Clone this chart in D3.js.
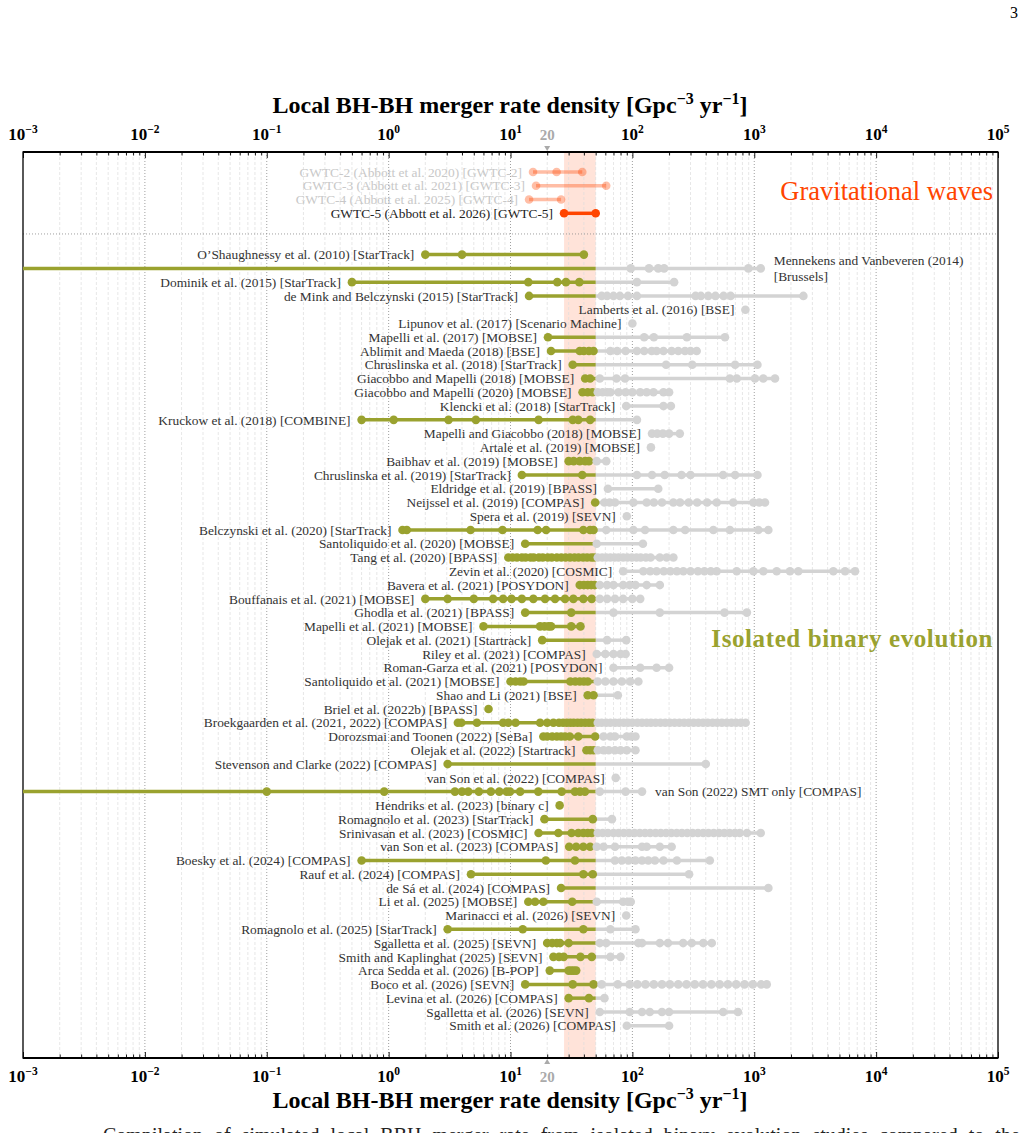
<!DOCTYPE html>
<html><head><meta charset="utf-8">
<script src="https://cdn.jsdelivr.net/npm/d3@7"></script>
<style>body{margin:0;background:#fff} svg{display:block}</style>
</head><body><svg id="c" width="1025" height="1133"></svg>
<script>
// ---------------- DATA ----------------
const gwLabels = [
  "GWTC-2 (Abbott et al. 2020) [GWTC-2]",
  "GWTC-3 (Abbott et al. 2021) [GWTC-3]",
  "GWTC-4 (Abbott et al. 2025) [GWTC-4]",
  "GWTC-5 (Abbott et al. 2026) [GWTC-5]"
];
const gwValues = [[15.3, 23.9, 38.8], [16.2, 61], [14.2, 26], [27.5, 50]];
const gwBand = [27.5, 50];
const markerValue = 20;

const studyLabels = [
  "O’Shaughnessy et al. (2010) [StarTrack]",
  "Mennekens and Vanbeveren (2014)|[Brussels]",
  "Dominik et al. (2015) [StarTrack]",
  "de Mink and Belczynski (2015) [StarTrack]",
  "Lamberts et al. (2016) [BSE]",
  "Lipunov et al. (2017) [Scenario Machine]",
  "Mapelli et al. (2017) [MOBSE]",
  "Ablimit and Maeda (2018) [BSE]",
  "Chruslinska et al. (2018) [StarTrack]",
  "Giacobbo and Mapelli (2018) [MOBSE]",
  "Giacobbo and Mapelli (2020) [MOBSE]",
  "Klencki et al. (2018) [StarTrack]",
  "Kruckow et al. (2018) [COMBINE]",
  "Mapelli and Giacobbo (2018) [MOBSE]",
  "Artale et al. (2019) [MOBSE]",
  "Baibhav et al. (2019) [MOBSE]",
  "Chruslinska et al. (2019) [StarTrack]",
  "Eldridge et al. (2019) [BPASS]",
  "Neijssel et al. (2019) [COMPAS]",
  "Spera et al. (2019) [SEVN]",
  "Belczynski et al. (2020) [StarTrack]",
  "Santoliquido et al. (2020) [MOBSE]",
  "Tang et al. (2020) [BPASS]",
  "Zevin et al. (2020) [COSMIC]",
  "Bavera et al. (2021) [POSYDON]",
  "Bouffanais et al. (2021) [MOBSE]",
  "Ghodla et al. (2021) [BPASS]",
  "Mapelli et al. (2021) [MOBSE]",
  "Olejak et al. (2021) [Startrack]",
  "Riley et al. (2021) [COMPAS]",
  "Roman-Garza et al. (2021) [POSYDON]",
  "Santoliquido et al. (2021) [MOBSE]",
  "Shao and Li (2021) [BSE]",
  "Briel et al. (2022b) [BPASS]",
  "Broekgaarden et al. (2021, 2022) [COMPAS]",
  "Dorozsmai and Toonen (2022) [SeBa]",
  "Olejak et al. (2022) [Startrack]",
  "Stevenson and Clarke (2022) [COMPAS]",
  "van Son et al. (2022) [COMPAS]",
  "van Son (2022) SMT only [COMPAS]",
  "Hendriks et al. (2023) [binary c]",
  "Romagnolo et al. (2023) [StarTrack]",
  "Srinivasan et al. (2023) [COSMIC]",
  "van Son et al. (2023) [COMPAS]",
  "Boesky et al. (2024) [COMPAS]",
  "Rauf et al. (2024) [COMPAS]",
  "de Sá et al. (2024) [COMPAS]",
  "Li et al. (2025) [MOBSE]",
  "Marinacci et al. (2026) [SEVN]",
  "Romagnolo et al. (2025) [StarTrack]",
  "Sgalletta et al. (2025) [SEVN]",
  "Smith and Kaplinghat (2025) [SEVN]",
  "Arca Sedda et al. (2026) [B-POP]",
  "Boco et al. (2026) [SEVN]",
  "Levina et al. (2026) [COMPAS]",
  "Sgalletta et al. (2026) [SEVN]",
  "Smith et al. (2026) [COMPAS]"
];

const studyValues = [
  [2, 4, 40],
  [1e-5, 97, 137, 163, 182, 895, 1130],
  [0.5, 14, 24.2, 28.5, 36.7, 109, 220],
  [14.2, 56, 62, 70, 79, 92, 109, 330, 365, 420, 480, 560, 640, 2530],
  [846],
  [100],
  [20.3, 125, 150, 280, 575],
  [21.5, 37, 40, 44, 48, 66, 75, 88, 109, 125, 144, 158, 180, 210, 238, 270, 300, 337],
  [32.4, 189, 310, 697, 1062],
  [41, 45, 54, 74, 87, 631, 719, 1014, 1186, 1480],
  [39, 43, 47, 52, 57, 62, 66, 77, 88, 100, 116, 131, 149, 180, 200],
  [89, 180, 207],
  [0.6, 1.1, 3.1, 5.2, 17, 32.4, 36, 45, 109],
  [145, 160, 178, 200, 245],
  [142],
  [30, 33, 37, 41, 44, 51, 61],
  [12.4, 38.8, 109, 145, 184, 253, 300, 555, 697, 1062],
  [63, 163],
  [49.5, 59, 65, 72, 102, 131, 150, 175, 217, 246, 290, 340, 410, 492, 673, 984, 1100, 1225],
  [90],
  [1.3, 1.41, 4.7, 8.6, 16.7, 19.6, 39.6, 45, 48, 61, 102, 127, 217, 271, 462, 631, 1080, 1305],
  [13.2, 51, 122],
  [9.6, 10.4, 11.3, 12.4, 13.3, 14.6, 15.5, 17.1, 18.4, 20.2, 21.8, 24, 26.1, 28.3, 30.8, 33.5, 36.2, 39.4, 42.5, 46, 48.5,
   52, 56.5, 61, 66, 71.5, 77, 84, 91, 99, 108, 117, 129, 141, 168, 191, 217],
  [84, 123, 140, 158, 181, 205, 232, 262, 300, 345, 390, 440, 492, 718, 984, 1188, 1528, 1965, 2300, 4456, 5560, 6714],
  [37, 40, 43, 46, 49, 54, 62, 70, 84, 95, 106, 131, 168],
  [2, 3.05, 5, 7.2, 8.7, 10.2, 12.4, 15.4, 19.2, 23.2, 28, 32.8, 39.6, 46.4, 54, 62, 72, 84, 100, 116],
  [13.2, 31.5, 70, 168, 570, 870],
  [6, 17.5, 19, 20.5, 21.5, 31.5, 37.5],
  [18.2, 62, 89],
  [51, 60, 70, 80, 88],
  [70, 116, 158, 200],
  [10, 11, 12, 12.8, 31, 34, 37, 40, 43, 52, 60, 70, 82, 96, 112],
  [43, 48, 76],
  [6.6],
  [3.7, 3.95, 5.3, 8.7, 9.6, 11, 17.5, 20, 22.5, 25, 27, 29, 31, 33, 35.5, 38, 41, 44, 47,
   52, 56, 61, 66, 72, 78, 85, 92, 100, 110, 120, 131, 142, 155, 170, 186, 203, 222, 243, 266, 290, 318,
   348, 380, 415, 455, 497, 543, 594, 650, 710, 776, 850],
  [18.6, 20, 22, 24, 26, 28, 30.6, 36, 49.5, 58, 66, 72, 90, 98, 106],
  [42, 45, 48, 52, 58, 64, 72, 80, 90, 106],
  [3.05, 400],
  [73],
  [1e-5, 0.1, 0.92, 3.5, 4.0, 4.5, 5.5, 6.9, 8.1, 9.3, 9.9, 12, 16.9, 26.3, 33.8, 37.2, 40.8, 54, 88, 120],
  [25.3],
  [19, 47.3, 68],
  [17, 24.7, 31.7, 36, 39.6, 43, 46.4, 52, 57, 63, 70, 77, 85, 94, 104, 115, 127, 140, 155, 171, 189, 209,
   231, 255, 282, 312, 345, 381, 421, 465, 514, 568, 628, 694, 760, 871, 1130],
  [30.3, 34.6, 39.6, 45, 51, 58, 72, 120, 131, 168, 210],
  [0.6, 19.5, 33.8, 72, 82, 93, 106, 120, 135, 153, 180, 232, 432],
  [4.74, 39.6, 47.3, 292],
  [26, 1306],
  [14, 15.9, 18.6, 32.1, 51, 84, 92, 97],
  [89],
  [3.05, 12.6, 39.6, 66, 106],
  [20, 22, 24, 25.5, 30, 54, 61, 112, 120, 168, 196, 261, 307, 382, 448],
  [22.5, 25, 27.3, 37.5, 46.4, 66, 80],
  [21, 30, 31.5, 33, 34.6],
  [13.2, 32.4, 48, 56, 76, 95, 110, 128, 150, 175, 203, 238, 278, 325, 380, 445, 520, 608, 711, 832, 973, 1140, 1266],
  [30, 44, 59],
  [54, 95, 120, 139, 175, 200, 556, 735],
  [90, 200]
];

const rightLabelStudies = ["Mennekens and Vanbeveren (2014)|[Brussels]", "van Son (2022) SMT only [COMPAS]"];
const tickExponents = [-3, -2, -1, 0, 1, 2, 3, 4, 5];

// ---------------- STYLE ----------------
const GREEN = "#9aa22f", GRAY = "#d3d3d3", GWC = "#ff4500";
const SERIF = "'Liberation Serif','Times New Roman',serif";
const svg = d3.select("#c");
const L = 23, R = 998, T = 152, B = 1058;

const x = d3.scaleLog().domain([1e-3, 1e5]).range([L, R]);
const y = d3.scaleLinear().domain([0, 62]).range([172, 1025.7]);

svg.append("defs").append("clipPath").attr("id", "clip")
  .append("rect").attr("x", L).attr("y", T).attr("width", R - L).attr("height", B - T);

// page number
svg.append("text").attr("x", 1018).attr("y", 18).attr("text-anchor", "end")
  .attr("font-family", SERIF).attr("font-size", 16).text("3");

// GW band
svg.append("rect").attr("x", x(gwBand[0])).attr("width", x(gwBand[1]) - x(gwBand[0]))
  .attr("y", T).attr("height", B - T).attr("fill", GWC).attr("opacity", 0.15);

// grid
const minors = [];
for (let e = -3; e < 5; e++) for (let k = 2; k <= 9; k++) minors.push(k * Math.pow(10, e));
const majors = tickExponents.map(e => Math.pow(10, e));
svg.append("g").selectAll("line").data(minors).join("line")
  .attr("x1", d => x(d)).attr("x2", d => x(d)).attr("y1", T).attr("y2", B)
  .attr("stroke", "#dcdcdc").attr("stroke-width", 0.7).attr("stroke-dasharray", "3,2");
svg.append("g").selectAll("line").data(majors.slice(1, -1)).join("line")
  .attr("x1", d => x(d)).attr("x2", d => x(d)).attr("y1", T).attr("y2", B)
  .attr("stroke", "#888").attr("stroke-width", 0.8).attr("stroke-dasharray", "1,2");

// separator
svg.append("line").attr("x1", L).attr("x2", R).attr("y1", y(4.5)).attr("y2", y(4.5))
  .attr("stroke", "#888").attr("stroke-width", 0.8).attr("stroke-dasharray", "1,2");

// axes (ticks inward)
const topG = svg.append("g").attr("transform", `translate(0,${T})`);
topG.call(d3.axisBottom(x).tickValues(majors).tickSize(6).tickFormat(""));
topG.append("g").call(d3.axisBottom(x).tickValues(minors).tickSize(3.5).tickFormat(""));
const botG = svg.append("g").attr("transform", `translate(0,${B})`);
botG.call(d3.axisTop(x).tickValues(majors).tickSize(6).tickFormat(""));
botG.append("g").call(d3.axisTop(x).tickValues(minors).tickSize(3.5).tickFormat(""));
svg.selectAll(".domain").remove();
svg.selectAll(".tick line").attr("stroke", "#000").attr("stroke-width", 0.9);

// frame
svg.append("rect").attr("x", L).attr("y", T).attr("width", R - L).attr("height", B - T)
  .attr("fill", "none").attr("stroke", "#000").attr("stroke-width", 1.3);
svg.append("line").attr("x1", L).attr("x2", R).attr("y1", T).attr("y2", T).attr("stroke", "#000").attr("stroke-width", 2);
svg.append("line").attr("x1", L).attr("x2", R).attr("y1", B).attr("y2", B).attr("stroke", "#000").attr("stroke-width", 2);

// tick labels
function tickLabel(yBase) {
  tickExponents.forEach(e => {
    const t = svg.append("text").attr("x", x(Math.pow(10, e))).attr("y", yBase)
      .attr("text-anchor", "middle").attr("font-family", SERIF).attr("font-weight", "bold")
      .attr("font-size", 17);
    t.append("tspan").text("10");
    t.append("tspan").attr("dy", -7).attr("font-size", 11.5).text(String(e).replace("-", "−"));
  });
}
tickLabel(140);
tickLabel(1082);

// title
function title(yBase) {
  const t = svg.append("text").attr("x", 510).attr("y", yBase).attr("text-anchor", "middle")
    .attr("font-family", SERIF).attr("font-weight", "bold").attr("font-size", 24);
  t.append("tspan").text("Local BH-BH merger rate density [Gpc");
  t.append("tspan").attr("dy", -9).attr("font-size", 16).text("−3");
  t.append("tspan").attr("dy", 9).text(" yr");
  t.append("tspan").attr("dy", -9).attr("font-size", 16).text("−1");
  t.append("tspan").attr("dy", 9).text("]");
}
title(113);
title(1108);

// 20 marker
const xm = x(markerValue);
svg.append("text").attr("x", xm).attr("y", 140).attr("text-anchor", "middle")
  .attr("font-family", SERIF).attr("font-weight", "bold").attr("font-size", 15).attr("fill", "#aaa").text(String(markerValue));
svg.append("path").attr("d", `M${xm - 3},${T - 6} L${xm + 3},${T - 6} L${xm},${T - 1} Z`).attr("fill", "#aaa");
svg.append("text").attr("x", xm).attr("y", 1082).attr("text-anchor", "middle")
  .attr("font-family", SERIF).attr("font-weight", "bold").attr("font-size", 15).attr("fill", "#aaa").text(String(markerValue));
svg.append("path").attr("d", `M${xm - 3},${B + 6} L${xm + 3},${B + 6} L${xm},${B + 1} Z`).attr("fill", "#aaa");

// ---------------- MARKS ----------------
const plot = svg.append("g").attr("clip-path", "url(#clip)");
const labelsG = svg.append("g").attr("font-family", SERIF).attr("font-size", 13.4);

// GW rows
gwValues.forEach((vals, i) => {
  const yy = y(i);
  const op = i === gwValues.length - 1 ? 1 : 0.35;
  const lo = d3.min(vals), hi = d3.max(vals);
  plot.append("line").attr("x1", x(lo)).attr("x2", x(hi)).attr("y1", yy).attr("y2", yy)
    .attr("stroke", GWC).attr("stroke-width", 3.5).attr("opacity", op);
  plot.append("g").selectAll("circle").data(vals).join("circle")
    .attr("cx", d => x(d)).attr("cy", yy).attr("r", 4.3).attr("fill", GWC).attr("opacity", op);
  labelsG.append("text").attr("x", x(lo) - 11).attr("y", yy).attr("dy", "0.35em")
    .attr("text-anchor", "end").attr("fill", op < 1 ? "#c8c8c8" : "#222").text(gwLabels[i]);
});

// study rows
const thr = gwBand[1];
studyValues.forEach((vals, j) => {
  const yy = y(j + 6);
  const lo = d3.min(vals), hi = d3.max(vals);
  if (hi > thr) {
    plot.append("line").attr("x1", x(Math.max(lo, thr))).attr("x2", x(hi)).attr("y1", yy).attr("y2", yy)
      .attr("stroke", GRAY).attr("stroke-width", 3.5);
  }
  if (lo <= thr) {
    plot.append("line").attr("x1", x(lo)).attr("x2", x(Math.min(hi, thr))).attr("y1", yy).attr("y2", yy)
      .attr("stroke", GREEN).attr("stroke-width", 3.5);
  }
  plot.append("g").selectAll("circle").data(vals.filter(v => v >= 1e-3)).join("circle")
    .attr("cx", d => x(d)).attr("cy", yy).attr("r", 4.3)
    .attr("fill", d => d <= thr ? GREEN : GRAY);

  const lab = studyLabels[j];
  const right = rightLabelStudies.includes(lab);
  const parts = lab.split("|");
  const t = labelsG.append("text").attr("fill", "#333")
    .attr("text-anchor", right ? "start" : "end")
    .attr("x", right ? x(hi) + 13 : x(lo) - 11);
  if (parts.length === 1) {
    t.attr("y", yy).attr("dy", "0.35em").text(lab);
  } else {
    t.attr("y", yy - 8).attr("dy", "0.35em");
    parts.forEach((p, k) => t.append("tspan").attr("x", x(hi) + 13).attr("dy", k === 0 ? "0.35em" : 16).text(p));
  }
});

// category labels
svg.append("text").attr("x", 993).attr("y", 200).attr("text-anchor", "end")
  .attr("font-family", SERIF).attr("font-size", 26.5).attr("fill", GWC).text("Gravitational waves");
svg.append("text").attr("x", 993).attr("y", 647).attr("text-anchor", "end")
  .attr("font-family", SERIF).attr("font-weight", "bold").attr("font-size", 25).attr("letter-spacing", 0.6)
  .attr("fill", GREEN).text("Isolated binary evolution");

// caption (cut off at page bottom, as in the reference)
svg.append("text").attr("x", 103).attr("y", 1142).attr("font-family", SERIF).attr("font-size", 20)
  .attr("word-spacing", 6).attr("fill", "#222")
  .text("Compilation of simulated local BBH merger rate from isolated binary evolution studies compared to the");
</script></body></html>
